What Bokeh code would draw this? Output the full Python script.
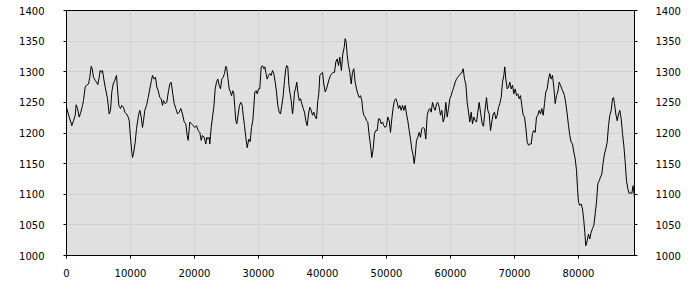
from bokeh.plotting import figure
from bokeh.models import Range1d, LinearAxis, SingleIntervalTicker, BasicTickFormatter
from bokeh.embed import file_html
from bokeh.resources import INLINE

x_vals = [0, 422, 672, 828, 1094, 1359, 1516, 1719, 1984, 2234, 2500, 2656, 2922, 3125, 3438, 3641,
          3859, 4016, 4219, 4484, 4688, 4891, 5109, 5266, 5469, 5625, 5828, 6047, 6203, 6406, 6672,
          6875, 7078, 7297, 7547, 7813, 7969, 8172, 8438, 8641, 8906, 9109, 9375, 9641, 9797, 9953,
          10156, 10313, 10469, 10734, 10938, 11250, 11453, 11672, 11875, 12031, 12234, 12500, 12766,
          13016, 13281, 13438, 13703, 13906, 14109, 14328, 14578, 14797, 15000, 15156, 15422, 15672,
          15938, 16141, 16359, 16563, 16828, 17078, 17344, 17609, 17859, 18125, 18391, 18641, 18859,
          19016, 19266, 19531, 19797, 20047, 20313, 20578, 20828, 21047, 21250, 21516, 21766, 21922,
          22078, 22297, 22391, 22609, 22813, 23016, 23234, 23438, 23641, 23859, 24063, 24266, 24484,
          24688, 24891, 25047, 25203, 25422, 25625, 25781, 25984, 26141, 26297, 26453, 26609, 26828,
          27031, 27234, 27453, 27609, 27813, 28016, 28234, 28484, 28703, 28906, 29109, 29266, 29422,
          29641, 29797, 30000, 30203, 30422, 30625, 30828, 30984, 31141, 31359, 31563, 31766, 31984,
          32188, 32391, 32609, 32813, 33016, 33234, 33438, 33641, 33859, 34063, 34266, 34422, 34578,
          34734, 34891, 35109, 35313, 35469, 35625, 35781, 35984, 36141, 36359, 36563, 36766, 36984,
          37188, 37391, 37609, 37813, 38016, 38234, 38438, 38641, 38859, 39063, 39266, 39422, 39578,
          39797, 40000, 40203, 40422, 40625, 40828, 41047, 41250, 41453, 41672, 41875, 42078, 42297,
          42500, 42703, 42950, 43172, 43391, 43547, 43703, 43859, 44063, 44266, 44484, 44688, 44891,
          45109, 45313, 45516, 45734, 45938, 46141, 46297, 46453, 46672, 46875, 47078, 47297, 47500,
          47703, 47922, 48125, 48328, 48547, 48750, 48953, 49172, 49375, 49578, 49797, 50000, 50203,
          50422, 50625, 50828, 51047, 51250, 51453, 51672, 51875, 52078, 52297, 52500, 52703, 52922,
          53125, 53328, 53547, 53750, 53953, 54172, 54328, 54484, 54688, 54891, 55109, 55313, 55516,
          55734, 55938, 56141, 56359, 56563, 56766, 56984, 57188, 57391, 57609, 57813, 58016, 58234,
          58438, 58641, 58859, 59063, 59266, 59484, 59688, 59891, 60109, 60313, 60516, 60734, 60938,
          61141, 61359, 61563, 61766, 61984, 62188, 62391, 62609, 62813, 63016, 63234, 63438, 63641,
          63859, 64063, 64266, 64484, 64688, 64953, 65156, 65359, 65625, 65828, 66047, 66250, 66453,
          66672, 66875, 67078, 67297, 67500, 67703, 67922, 68125, 68328, 68484, 68641, 68859, 69063,
          69266, 69484, 69688, 69891, 70109, 70313, 70516, 70734, 70938, 71141, 71359, 71563, 71766,
          71984, 72188, 72391, 72609, 72813, 73016, 73234, 73438, 73641, 73859, 74063, 74266, 74484,
          74688, 74891, 75109, 75313, 75516, 75734, 75938, 76141, 76359, 76563, 76766, 76984, 77188,
          77391, 77609, 77813, 78016, 78234, 78438, 78641, 78859, 79063, 79266, 79484, 79688, 79844,
          80000, 80203, 80422, 80625, 80828, 80984, 81141, 81359, 81563, 81766, 81984, 82188, 82391,
          82609, 82813, 83016, 83234, 83438, 83641, 83859, 84063, 84266, 84484, 84688, 84891, 85109,
          85313, 85469, 85625, 85828, 86047, 86250, 86453, 86672, 86875, 87078, 87297, 87500, 87703,
          87922, 88125, 88328, 88531, 88750]

y_vals = [1242, 1226, 1218, 1212, 1220, 1229, 1246, 1240, 1226, 1234, 1245, 1253, 1275, 1278, 1280, 1291,
          1309, 1305, 1291, 1286, 1283, 1279, 1291, 1302, 1299, 1302, 1288, 1275, 1267, 1256, 1231,
          1237, 1267, 1280, 1286, 1294, 1272, 1245, 1240, 1245, 1242, 1234, 1231, 1226, 1220, 1199,
          1174, 1160, 1166, 1185, 1207, 1229, 1237, 1226, 1209, 1220, 1237, 1245, 1258,
          1272, 1286, 1294, 1288, 1291, 1275, 1269, 1258, 1256, 1245, 1253, 1248, 1250,
          1269, 1280, 1283, 1267, 1248, 1240, 1231, 1234, 1240, 1231, 1218, 1215, 1196,
          1188, 1218, 1215, 1212, 1209, 1212, 1204, 1201, 1188, 1196, 1193, 1182, 1193,
          1190, 1193, 1182, 1209, 1226, 1242, 1272, 1283, 1288, 1278, 1272, 1288, 1291,
          1297, 1309, 1305, 1291, 1272, 1267, 1261, 1269, 1264, 1242, 1220, 1215, 1231,
          1245, 1250, 1245, 1229, 1212, 1193, 1176, 1190, 1186, 1209, 1220, 1242, 1267,
          1269, 1264, 1272, 1272, 1308, 1310, 1305, 1308, 1299, 1288, 1294, 1297, 1294,
          1302, 1297, 1283, 1267, 1245, 1234, 1231, 1245, 1261, 1286, 1305, 1310, 1308,
          1280, 1267, 1253, 1231, 1245, 1267, 1272, 1283, 1267, 1253, 1256, 1248, 1240,
          1234, 1220, 1212, 1231, 1242, 1237, 1229, 1234, 1226, 1223, 1253, 1264, 1294,
          1297, 1299, 1280, 1267, 1272, 1280, 1288, 1294, 1297, 1299, 1299, 1316, 1321,
          1310, 1324, 1302, 1329, 1340, 1354, 1348, 1327, 1310, 1299, 1280, 1299, 1305,
          1283, 1272, 1264, 1258, 1261, 1253, 1237, 1229, 1226, 1220, 1218, 1196, 1180,
          1160, 1174, 1199, 1204, 1204, 1223, 1223, 1215, 1218, 1212, 1209, 1212, 1226,
          1220, 1201, 1223, 1242, 1253, 1256, 1250, 1240, 1245, 1237, 1245, 1237, 1245,
          1231, 1220, 1204, 1190, 1174, 1163, 1150, 1163, 1188, 1193, 1201, 1193, 1207,
          1209, 1207, 1190, 1229, 1237, 1240, 1234, 1250, 1242, 1237, 1248, 1250, 1242,
          1229, 1237, 1218, 1226, 1250, 1226, 1240, 1256, 1261, 1269, 1275, 1283, 1288,
          1291, 1294, 1297, 1298, 1305, 1288, 1280, 1250, 1234, 1218, 1234, 1215, 1226,
          1220, 1218, 1234, 1250, 1234, 1215, 1211, 1234, 1258, 1237, 1231, 1204, 1218,
          1231, 1234, 1223, 1229, 1242, 1248, 1258, 1283, 1294, 1308, 1288, 1272, 1275,
          1283, 1272, 1278, 1264, 1272, 1261, 1264, 1256, 1261, 1245, 1229, 1226, 1209,
          1185, 1180, 1182, 1182, 1199, 1204, 1201, 1226, 1229, 1237, 1231, 1240, 1229,
          1248, 1267, 1272, 1288, 1297, 1288, 1294, 1275, 1248, 1261, 1267, 1283, 1278,
          1272, 1267, 1261, 1248, 1231, 1212, 1196, 1185, 1182, 1169, 1158, 1139, 1109,
          1087, 1082, 1084, 1076, 1057, 1038, 1016, 1024, 1035, 1027, 1038, 1044, 1049,
          1068, 1087, 1117, 1122, 1128, 1133, 1152, 1166, 1174, 1185, 1212, 1229, 1237,
          1256, 1258, 1248, 1231, 1220, 1231, 1237, 1223, 1199, 1180, 1152, 1122, 1109,
          1101, 1103, 1101, 1114, 1095]

x_ticks_interval = 10000
y_ticks_interval = 50
y_min, y_max = 1000, 1400

FONT = "DejaVu Sans"

p = figure(width=700, height=300, output_backend="svg", toolbar_location=None,
           x_range=Range1d(x_vals[0], x_vals[-1]), y_range=Range1d(y_min, y_max),
           min_border_left=66, min_border_right=66, min_border_top=10, min_border_bottom=45)

p.background_fill_color = "#e0e0e0"
p.border_fill_color = "white"
p.outline_line_color = "black"
p.outline_line_width = 1

p.line(x_vals, y_vals, line_color="black", line_width=1)

p.add_layout(LinearAxis(), "right")

for ax in p.xaxis:
    ax.ticker = SingleIntervalTicker(interval=x_ticks_interval, num_minor_ticks=0)
    ax.formatter = BasicTickFormatter(use_scientific=False)
    ax.major_label_standoff = 10
for ax in p.yaxis:
    ax.ticker = SingleIntervalTicker(interval=y_ticks_interval, num_minor_ticks=0)
    ax.formatter = BasicTickFormatter(use_scientific=False)
p.yaxis[0].major_label_standoff = 19
p.yaxis[1].major_label_standoff = 18

for ax in list(p.xaxis) + list(p.yaxis):
    ax.axis_line_color = "black"
    ax.major_tick_line_color = "black"
    ax.major_tick_in = 0
    ax.major_tick_out = 3
    ax.minor_tick_line_color = None
    ax.major_label_text_font = FONT
    ax.major_label_text_font_size = "10px"
    ax.major_label_text_color = "black"

p.xgrid.ticker = SingleIntervalTicker(interval=x_ticks_interval)
p.ygrid.ticker = SingleIntervalTicker(interval=y_ticks_interval)
p.grid.grid_line_color = "#d2d2d2"
p.grid.grid_line_width = 1

open("out.html", "w").write(file_html(p, INLINE))
